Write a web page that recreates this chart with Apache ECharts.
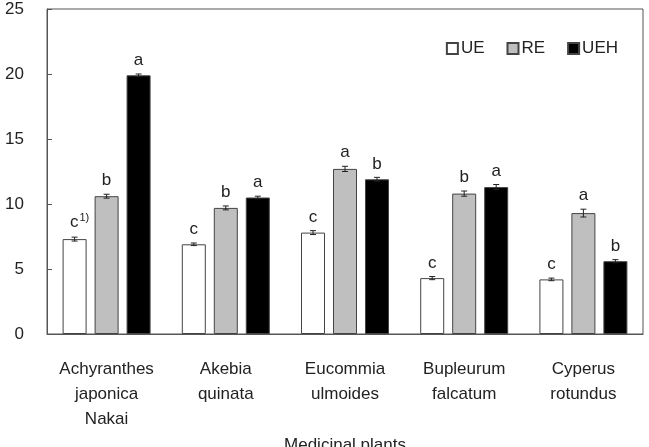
<!DOCTYPE html>
<html>
<head>
<meta charset="utf-8">
<script src="https://cdn.jsdelivr.net/npm/echarts@6/dist/echarts.min.js"></script>
<style>
	html,body{margin:0;padding:0;background:#fff;}
	#chart{width:649px;height:447px;}
</style>
</head>
<body>
<div id="chart"></div>
<script>
//数据
var categories = ['Achyranthes\njaponica\nNakai', 'Akebia\nquinata', 'Eucommia\nulmoides', 'Bupleurum\nfalcatum', 'Cyperus\nrotundus'];
var seriesNames = ['UE', 'RE', 'UEH'];
var ueValues = [7.3, 6.9, 7.8, 4.3, 4.2];
var reValues = [10.6, 9.7, 12.7, 10.8, 9.3];
var uehValues = [19.9, 10.5, 11.9, 11.3, 5.6];
var ueErrors = [0.15, 0.1, 0.15, 0.12, 0.1];
var reErrors = [0.15, 0.15, 0.2, 0.2, 0.3];
var uehErrors = [0.1, 0.1, 0.15, 0.2, 0.12];
var ueLetters = ['c', 'c', 'c', 'c', 'c'];
var reLetters = ['b', 'b', 'a', 'b', 'a'];
var uehLetters = ['a', 'a', 'b', 'a', 'b'];
var yTicks = [0, 5, 10, 15, 20, 25];

var barW = 24;
var barStep = 32;
var fontFam = 'Liberation Sans, Arial, sans-serif';
var txtColor = '#222';

var chart = echarts.init(document.getElementById('chart'));

/*
 * 误差线和字母标注
 */
function errorSeries(idx, values, errors, letters){
	var data = [];
	for (var i = 0; i < values.length; i++){
		data.push([i, values[i], errors[i], i]);
	}
	return {
		type: 'custom',
		name: seriesNames[idx] + '_err',
		silent: true,
		z: 10,
		data: data,
		encode: {x: 0, y: 1},
		renderItem: function(params, api){
			var ci = api.value(0);
			var mean = api.value(1);
			var err = api.value(2);
			var li = api.value(3);
			var offset = (idx - 1) * barStep;
			var hi = api.coord([ci, mean + err]);
			var lo = api.coord([ci, mean - err]);
			var x = hi[0] + offset;
			var cap = 3;
			var st = {stroke: '#222', lineWidth: 1};
			var txt = letters[li];
			if(idx == 0 && li == 0){
				txt = '{a|c}{s|1)}';
			}
			return {
				type: 'group',
				children: [
					{type: 'line', shape: {x1: x, y1: hi[1], x2: x, y2: lo[1]}, style: st},
					{type: 'line', shape: {x1: x - cap, y1: hi[1], x2: x + cap, y2: hi[1]}, style: st},
					{type: 'line', shape: {x1: x - cap, y1: lo[1], x2: x + cap, y2: lo[1]}, style: st},
					{
						type: 'text',
						x: idx == 0 && li == 0 ? x + 5 : x,
						y: hi[1] - 5,
						style: {
							text: txt,
							fill: txtColor,
							font: '17px ' + fontFam,
							align: 'center',
							verticalAlign: 'bottom',
							rich: {
								a: {fontSize: 17, fontFamily: fontFam, fill: txtColor},
								s: {fontSize: 11, fontFamily: fontFam, fill: txtColor, verticalAlign: 'top', padding: [0, 0, 9, 1]}
							}
						}
					}
				]
			};
		}
	};
}

function barSeries(name, values, color){
	return {
		type: 'bar',
		name: name,
		data: values,
		barWidth: barW,
		barGap: '33.3%',
		itemStyle: {
			color: color,
			borderColor: '#444',
			borderWidth: 1
		}
	};
}

var option = {
	animation: false,
	textStyle: {fontFamily: fontFam},
	grid: {
		left: 47,
		right: 6,
		top: 9,
		bottom: 113,
		outerBoundsMode: 'none',
		containLabel: false,
		show: true,
		borderColor: '#555',
		borderWidth: 1,
		backgroundColor: 'transparent'
	},
	legend: {
		data: seriesNames,
		top: 35,
		right: 26,
		itemWidth: 11,
		itemHeight: 11,
		itemGap: 22,
		icon: 'rect',
		selectedMode: false,
		textStyle: {
			fontSize: 17,
			color: txtColor,
			fontFamily: fontFam,
			padding: [0, 0, 0, -2]
		}
	},
	xAxis: {
		type: 'category',
		data: categories,
		name: 'Medicinal plants',
		nameLocation: 'middle',
		nameGap: 101,
		nameTextStyle: {fontSize: 17, color: txtColor},
		axisLine: {lineStyle: {color: '#555'}},
		axisTick: {show: false},
		axisLabel: {
			fontSize: 17,
			color: txtColor,
			lineHeight: 25,
			margin: 23,
			interval: 0
		}
	},
	yAxis: {
		type: 'value',
		min: yTicks[0],
		max: yTicks[yTicks.length - 1],
		interval: 5,
		axisLine: {show: true, lineStyle: {color: '#555'}},
		axisTick: {show: true, inside: true, length: 5, lineStyle: {color: '#555'}},
		splitLine: {show: false},
		axisLabel: {
			fontSize: 17,
			color: txtColor,
			margin: 23
		}
	},
	series: [
		barSeries('UE', ueValues, '#ffffff'),
		barSeries('RE', reValues, '#bfbfbf'),
		barSeries('UEH', uehValues, '#000000'),
		errorSeries(0, ueValues, ueErrors, ueLetters),
		errorSeries(1, reValues, reErrors, reLetters),
		errorSeries(2, uehValues, uehErrors, uehLetters)
	]
};
chart.setOption(option);
</script>
</body>
</html>
